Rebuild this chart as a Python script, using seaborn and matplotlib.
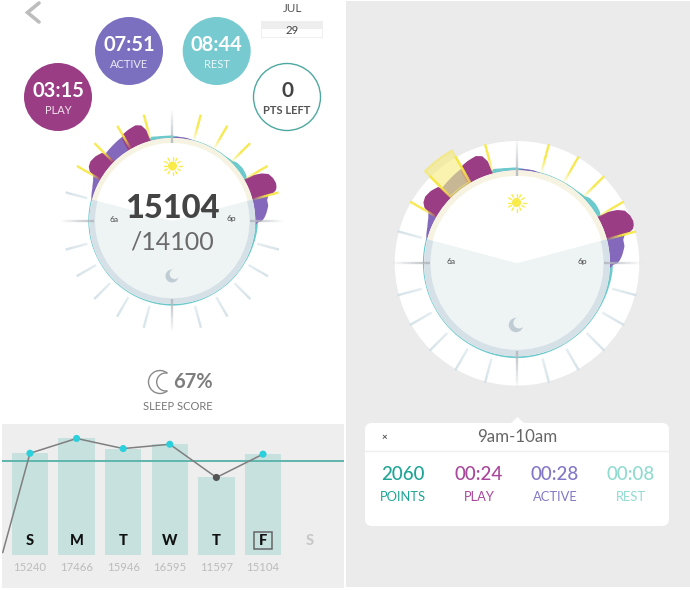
import matplotlib
matplotlib.use("Agg")
import matplotlib.pyplot as plt
import numpy as np
import pandas as pd
import seaborn as sns
from matplotlib.patches import Arc, Circle, FancyBboxPatch, Polygon, Rectangle

sns.set_theme(style="white")
plt.rcParams["font.family"] = ["Lato", "DejaVu Sans"]

# week chart
slots = [0, 1, 2, 3, 4, 5]
day_points = [15240, 17466, 15946, 16595, 11597, 15104]
goal = 14100
day_letters = ["S", "M", "T", "W", "T", "F", "S"]
marker_state = ["over", "over", "over", "over", "under", "over"]
prev_slot = -0.585
prev_points = 300

# dial outlines: clockwise degrees from noon, radius in dial radii
rest_theta = [-90, -76, -60, -17, -14, -10, -5, 0, 5, 15, 30, 40, 45, 48, 53, 58, 62, 75, 85, 90, 95, 105, 120, 150, 180, 210, 240, 270]
rest_r = [1.012, 1.012, 1.0, 1.0, 1.045, 1.035, 1.03, 1.03, 1.015, 1.008, 1.008, 1.012, 1.025, 1.05, 1.06, 1.05, 1.02, 1.0, 1.0, 1.03, 1.03, 1.02, 1.01, 1.01, 1.02, 1.012, 1.008, 1.012]
active_theta = [-76, -73, -68, -63, -60, -46, -38, -31, -16, -3, 0, 3, 10, 15]
active_r = [1.0, 1.02, 1.04, 1.07, 1.1, 1.14, 1.16, 1.18, 1.0, 1.0, 1.0, 1.018, 1.015, 1.0]
active2_theta = [74, 75, 77.5, 81, 85.5, 88, 90, 91, 93]
active2_r = [1.0, 1.2, 1.17, 1.17, 1.135, 1.11, 1.08, 1.03, 1.0]
play_blobs = [
    ([-60.5, -60, -59, -57, -54, -50, -46, -44.5, -44], [1.0, 1.1, 1.16, 1.2, 1.22, 1.21, 1.18, 1.13, 1.0]),
    ([-32, -31.5, -30, -26, -21, -18, -16, -15], [1.0, 1.15, 1.2, 1.22, 1.235, 1.21, 1.14, 1.0]),
    ([60, 60.5, 62, 64, 67, 70, 72, 73.5, 74.5, 75], [1.0, 1.12, 1.22, 1.29, 1.32, 1.33, 1.32, 1.3, 1.26, 1.0]),
]
day_ticks = [-60, -45, -30, -15, 15, 30, 45, 60, 75]
night_ticks = [-75, 105, 120, 135, 150, 165, 195, 210, 225, 240, 255]
main_ticks = [0, 90, 180, -90]

# top bubbles and popup card
bubble_values = ["03:15", "07:51", "08:44"]
bubble_labels = ["PLAY", "ACTIVE", "REST"]
card_values = ["2060", "00:24", "00:28", "00:08"]
card_labels = ["POINTS", "PLAY", "ACTIVE", "REST"]

PLAY = "#9b3d85"
ACTIVE = "#8468bb"
REST = "#6cc9cc"
YELLOW = "#f6e73c"
W, H = 690, 590
RMAX = 1.45


def add_dial(fig, cx, cy, radius, white_disc=False):
    half = radius * RMAX
    ax = fig.add_axes([(cx - half) / W, 1 - (cy + half) / H, 2 * half / W, 2 * half / H],
                      projection="polar", zorder=2)
    ax.set_theta_zero_location("N")
    ax.set_theta_direction(-1)
    ax.set_rlim(0, RMAX)
    ax.axis("off")
    ax.patch.set_alpha(0)

    full = 2 * np.pi
    if white_disc:
        ax.bar(0, 1.315, width=full, color="white", linewidth=0)

    def blob(theta, r, color):
        poly = ax.fill(np.radians(theta + theta[::-1]), r + [0.9] * len(r), color=color, linewidth=0)[0]
        poly.get_path()._interpolation_steps = 12

    blob(rest_theta + [rest_theta[0] + 360], rest_r + [rest_r[0]], REST)
    blob(active_theta, active_r, ACTIVE)
    blob(active2_theta, active2_r, ACTIVE)
    for theta, r in play_blobs:
        blob(theta, r, PLAY)

    # dial face, night wedge and ring
    ax.bar(0, 1.0, width=full, color="white", linewidth=0)
    ax.bar(np.pi, 0.93, width=np.radians(210), color="#eef3f4", linewidth=0)
    ax.bar(0, 0.06, bottom=0.94, width=np.radians(150), color="#f7f3e3", linewidth=0)
    ax.bar(np.pi, 0.07, bottom=0.93, width=np.radians(210), color="#d6e1e7", linewidth=0)

    def fade_tick(angle, r0, r1, color, a0, a1, lw=1.7):
        edges = np.linspace(r0, r1, 11)
        for i in range(10):
            ax.plot([np.radians(angle)] * 2, edges[i:i + 2], color=color, lw=lw,
                    alpha=a0 + (a1 - a0) * (i / 9), solid_capstyle="butt")

    for a in day_ticks:
        fade_tick(a, 1.0, 1.18, YELLOW, 0.1, 1.0)
        fade_tick(a, 1.18, 1.325, YELLOW, 1.0, 1.0)
    for a in night_ticks:
        fade_tick(a, 1.06, 1.33, "#d3e1e7", 0.6, 1.0)
    for a in main_ticks:
        fade_tick(a, 0.94, 1.33, "#b4babf", 0.9, 0.1)
    return ax


def sun(ax, x, y, scale=1.0):
    ax.add_patch(Circle((x, y), 4.6 * scale, color="#f9ec4a", lw=0))
    for a in np.radians(np.arange(0, 360, 30)):
        ax.plot([x + 6 * scale * np.cos(a), x + 9 * scale * np.cos(a)],
                [y + 6 * scale * np.sin(a), y + 9 * scale * np.sin(a)], color="#f9ec4a", lw=1.0)


def moon(ax, x, y, r, bg):
    ax.add_patch(Circle((x, y), r, color="#c0ccd4", lw=0))
    ax.add_patch(Circle((x + r * 0.42, y - r * 0.3), r * 0.78, color=bg, lw=0))


fig = plt.figure(figsize=(W / 100, H / 100), dpi=100, facecolor="white")

bg = fig.add_axes([0, 0, 1, 1], zorder=0)
bg.set_xlim(0, W)
bg.set_ylim(H, 0)
bg.axis("off")
bg.add_patch(Rectangle((346, 1), 344, 586, color="#ebebeb", lw=0))

# week bars and line
week = fig.add_axes([2 / W, 1 - 587.5 / H, 342 / W, 163.5 / H], zorder=1, facecolor="#eeeeee")
df = pd.DataFrame({"slot": slots, "points": day_points, "state": marker_state})
sns.barplot(data=df, x="slot", y="points", native_scale=True, width=0.78, color="#c6e1de",
            saturation=1, linewidth=0, ax=week)
week.axhline(goal, color="#5fb5ad", lw=1.4, zorder=3)
sns.lineplot(x=[prev_slot] + slots, y=[prev_points] + day_points, color="#7f7f7f", lw=1.1,
             ax=week, zorder=4)
sns.scatterplot(data=df, x="slot", y="points", hue="state", palette={"over": "#2ad0dc", "under": "#555555"},
                s=26, linewidth=0, legend=False, ax=week, zorder=5)
week.set_xlim(-0.6, 6.738)
week.set_ylim(-4950, 19640)
week.set(xlabel="", ylabel="", xticks=[], yticks=[])
sns.despine(ax=week, left=True, bottom=True)
for i, letter in enumerate(day_letters):
    week.text(i, 2090, letter, ha="center", va="center", fontsize=10.5, fontweight="black",
              color="#111111" if i < 6 else "#c8c8c8")
for s, v in zip(slots, day_points):
    week.text(s, -1950, str(v), ha="center", va="center", fontsize=8.2, color="#bcbcbc")
week.add_patch(Rectangle((4.807, 825), 0.386, 2550, fill=False, ec="#666666", lw=1.1))

add_dial(fig, 172.3, 221, 83)
right_dial = add_dial(fig, 517, 263.3, 93, white_disc=True)
# selected hour highlight
right_dial.bar(np.radians(-37.5), 0.39, bottom=1.01, width=np.radians(15), color="#f7ec7a",
               alpha=0.6, edgecolor="#f3e66a", linewidth=1.6, joinstyle="round")

fg = fig.add_axes([0, 0, 1, 1], zorder=5)
fg.set_xlim(0, W)
fg.set_ylim(H, 0)
fg.axis("off")
fg.patch.set_alpha(0)

# back chevron and date
fg.plot([39, 27.5, 39], [3, 12.5, 22], color="#bdbdbd", lw=2.6, solid_joinstyle="miter")
fg.text(293, 8, "JUL", ha="center", va="center", fontsize=8.4, color="#555555")
fg.add_patch(Rectangle((261, 21), 61, 8, color="#eeeeee", lw=0))
fg.add_patch(Rectangle((261, 21), 61, 16, fill=False, ec="#f0f0f0", lw=0.8))
fg.text(292.5, 30.5, "29", ha="center", va="center", fontsize=8.2, color="#444444")

# bubbles
for (x, y), color, val, lab in zip([(58, 97), (129, 51), (216.7, 51)], [PLAY, "#7a70bf", "#76cad0"],
                                   bubble_values, bubble_labels):
    fg.add_patch(Circle((x, y), 34, color=color, lw=0))
    fg.text(x, y - 6, val, ha="center", va="center", fontsize=14.5, fontweight="bold", color="white")
    fg.text(x, y + 13, lab, ha="center", va="center", fontsize=8, color="#ffffff", alpha=0.85)
fg.add_patch(Circle((287, 97), 33.5, fc="white", ec="#4ea8a0", lw=1.0))
fg.text(287, 91, "0", ha="center", va="center", fontsize=15, fontweight="bold", color="#444444")
fg.text(287, 110, "PTS LEFT", ha="center", va="center", fontsize=8, fontweight="bold", color="#555555")

# left dial texts
fg.text(172, 208, "15104", ha="center", va="center", fontsize=23.5, fontweight="black", color="#444444")
fg.text(172, 241.5, "/14100", ha="center", va="center", fontsize=18, color="#6a6a6a")
fg.text(114, 219, "6a", ha="center", va="center", fontsize=6, color="#444444")
fg.text(231.5, 219, "6p", ha="center", va="center", fontsize=6, color="#444444")
sun(fg, 172.5, 166)
moon(fg, 172, 276, 6.5, "#eef3f4")

# right dial texts
sun(fg, 516.5, 202.5)
moon(fg, 516, 325, 7.2, "#eef3f4")
fg.text(451, 261.7, "6a", ha="center", va="center", fontsize=6, color="#444444")
fg.text(582, 261.7, "6p", ha="center", va="center", fontsize=6, color="#444444")

# sleep score
fg.add_patch(Arc((160, 382), 23, 23, theta1=50, theta2=310, color="#8a8a8a", lw=1.0))
fg.add_patch(Arc((165.7, 382), 18, 18, theta1=79, theta2=281, color="#8a8a8a", lw=1.0))
fg.text(193, 382, "67%", ha="center", va="center", fontsize=14.5, fontweight="bold", color="#7d7d7d")
fg.text(177.5, 406, "SLEEP SCORE", ha="center", va="center", fontsize=8, color="#777777")

# popup card
fg.add_patch(FancyBboxPatch((365, 423), 304, 103, boxstyle="round,pad=0,rounding_size=7", fc="white", lw=0))
fg.add_patch(Polygon([(510, 424), (517.5, 417), (525, 424)], color="white", lw=0))
fg.plot([365, 669], [451, 451], color="#eeeeee", lw=1.0)
fg.text(384, 437, "×", ha="center", va="center", fontsize=7, fontweight="bold", color="#555555")
fg.text(517, 437.5, "9am-10am", ha="center", va="center", fontsize=12.2, color="#666666")
for x, val, lab, color in zip([403, 479, 555, 631], card_values, card_labels,
                              ["#1fa596", "#a8479b", "#8377c9", "#90dbd0"]):
    fg.text(x, 474, val, ha="center", va="center", fontsize=13.5, fontweight="medium", color=color)
    fg.text(x, 497, lab, ha="center", va="center", fontsize=9.3, color=color)

fig.savefig("out.png", dpi=100)
plt.close(fig)
